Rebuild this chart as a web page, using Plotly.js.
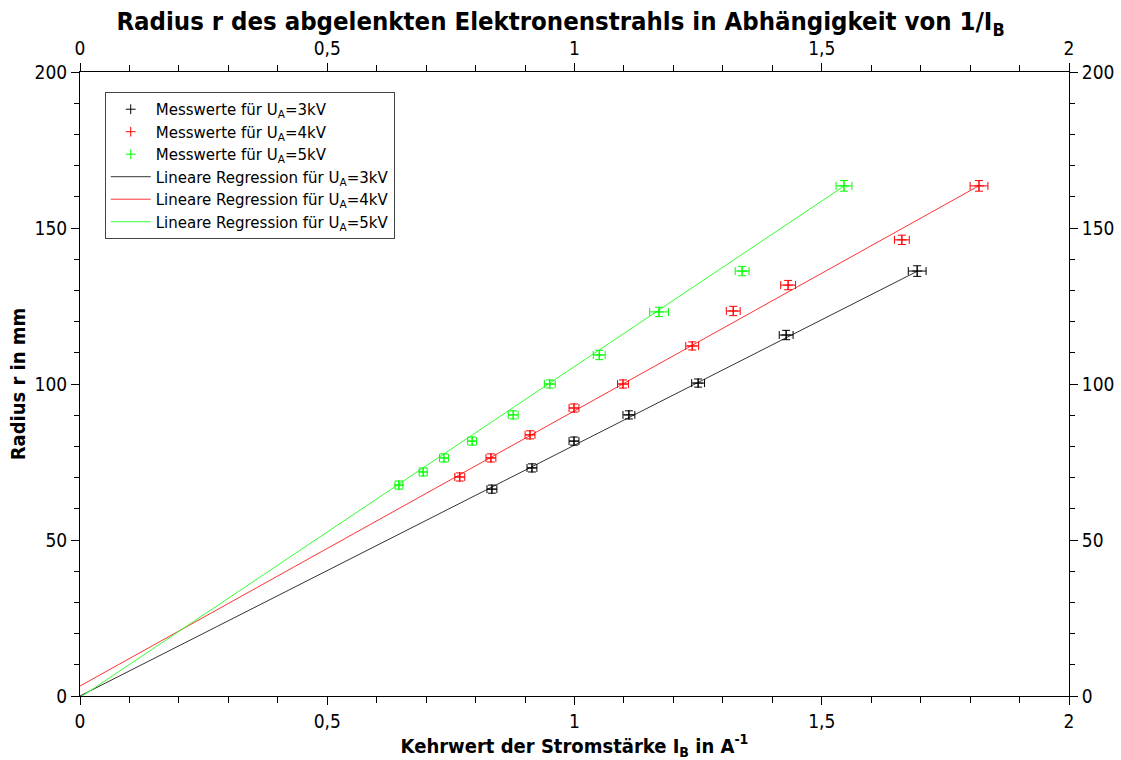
<!DOCTYPE html>
<html>
<head>
<meta charset="utf-8">
<script src="https://cdn.plot.ly/plotly-3.0.1.min.js"></script>
<style>html,body{margin:0;padding:0;background:#fff;}#chart{width:1121px;height:760px;}</style>
</head>
<body>
<div id="chart"></div>
<script>
// Measured values (x = 1/I_B in A^-1, r in mm)
const x3kV = [0.833, 0.914, 0.999, 1.110, 1.250, 1.428, 1.693];
const r3kV = [66.3, 73.1, 81.7, 90.1, 100.3, 115.7, 136.2];
const ex3kV = [0.010, 0.010, 0.010, 0.012, 0.013, 0.014, 0.018];
const er3kV = [1.3, 1.3, 1.3, 1.3, 1.3, 1.5, 1.7];

const x4kV = [0.768, 0.831, 0.910, 0.999, 1.098, 1.238, 1.321, 1.432, 1.662, 1.818];
const r4kV = [70.2, 76.3, 83.7, 92.3, 100.0, 112.2, 123.4, 131.7, 146.2, 163.5];
const ex4kV = [0.010, 0.010, 0.010, 0.010, 0.011, 0.013, 0.014, 0.015, 0.015, 0.018];
const er4kV = [1.3, 1.3, 1.3, 1.3, 1.3, 1.3, 1.5, 1.5, 1.5, 1.7];

const x5kV = [0.645, 0.694, 0.736, 0.793, 0.876, 0.950, 1.050, 1.171, 1.339, 1.545];
const r5kV = [67.6, 71.8, 76.3, 81.7, 90.1, 100.0, 109.3, 123.1, 136.2, 163.5];
const ex5kV = [0.008, 0.008, 0.009, 0.009, 0.010, 0.011, 0.012, 0.019, 0.014, 0.016];
const er5kV = [1.3, 1.3, 1.3, 1.3, 1.3, 1.3, 1.5, 1.5, 1.5, 1.7];

// Linear regression parameters r = a * x + b, drawn from x = 0 to last measured x
const regSlope = [80.4, 88.2, 106.1];
const regIntercept = [0.0, 3.2, -0.5];
const regXmax = [1.693, 1.818, 1.545];

const seriesNames = ['Messwerte für U<sub>A</sub>=3kV', 'Messwerte für U<sub>A</sub>=4kV', 'Messwerte für U<sub>A</sub>=5kV'];
const regNames = ['Lineare Regression für U<sub>A</sub>=3kV', 'Lineare Regression für U<sub>A</sub>=4kV', 'Lineare Regression für U<sub>A</sub>=5kV'];
const colors = ['#000000', '#ff0000', '#00ff00'];
const lineColors = ['#333333', '#ff3333', '#33ff33'];

const xs = [x3kV, x4kV, x5kV];
const rs = [r3kV, r4kV, r5kV];
const exs = [ex3kV, ex4kV, ex5kV];
const ers = [er3kV, er4kV, er5kV];

const traces = [];
// measured points on the secondary (top/right) axes so they sit above the lines
for (let i = 0; i < 3; i++) {
  traces.push({
    type: 'scatter', mode: 'markers', name: seriesNames[i],
    x: xs[i], y: rs[i], xaxis: 'x2', yaxis: 'y2',
    marker: {symbol: 'cross-thin-open', size: 7, color: colors[i], line: {width: 1, color: colors[i]}},
    error_x: {type: 'data', array: exs[i], visible: true, color: colors[i], thickness: 1, width: 4},
    error_y: {type: 'data', array: ers[i], visible: true, color: colors[i], thickness: 1, width: 4},
    hoverinfo: 'x+y'
  });
}
for (let i = 0; i < 3; i++) {
  const lx = [0, regXmax[i]];
  const ly = lx.map(v => regSlope[i] * v + regIntercept[i]);
  traces.push({
    type: 'scatter', mode: 'lines', name: regNames[i],
    x: lx, y: ly, xaxis: 'x', yaxis: 'y',
    line: {color: lineColors[i], width: 1},
    hoverinfo: 'x+y'
  });
}

const condFont = 'DejaVu Sans Condensed, DejaVu Sans, sans-serif';
const tickFont = {family: condFont, size: 19, color: '#000'};

const xCommon = {
  range: [0, 2], dtick: 0.5, tick0: 0, ticks: 'outside', ticklen: 8, tickcolor: '#000', tickwidth: 1,
  minor: {dtick: 0.1, ticks: 'outside', ticklen: 6, tickcolor: '#000', showgrid: false},
  showline: true, linecolor: '#000', linewidth: 1, showgrid: false, zeroline: false,
  tickfont: tickFont, fixedrange: true
};
const yCommon = {
  range: [0, 200], dtick: 50, tick0: 0, ticks: 'outside', ticklen: 8, tickcolor: '#000', tickwidth: 1,
  minor: {dtick: 10, ticks: 'outside', ticklen: 5, tickcolor: '#000', showgrid: false},
  showline: true, linecolor: '#000', linewidth: 1, showgrid: false, zeroline: false,
  tickfont: tickFont, fixedrange: true
};

const layout = {
  width: 1121, height: 760,
  margin: {l: 80, r: 52, t: 72, b: 64},
  paper_bgcolor: '#fff', plot_bgcolor: '#fff',
  separators: ',.',
  font: {family: 'DejaVu Sans, sans-serif', color: '#000'},
  title: {
    text: 'Radius r des abgelenkten Elektronenstrahls in Abhängigkeit von 1/I<sub>B</sub>',
    font: {family: condFont, size: 25.5, weight: 'bold', color: '#000'},
    x: 0.5, xanchor: 'center', y: 0.972, yanchor: 'middle'
  },
  xaxis: Object.assign({}, xCommon, {
    side: 'bottom', anchor: 'y',
    title: {text: 'Kehrwert der Stromstärke I<sub>B</sub> in A<sup>-1</sup>',
            font: {family: condFont, size: 20, weight: 'bold', color: '#000'}, standoff: 4}
  }),
  xaxis2: Object.assign({}, xCommon, {side: 'top', overlaying: 'x', anchor: 'y2'}),
  yaxis: Object.assign({}, yCommon, {
    side: 'left', anchor: 'x',
    title: {text: 'Radius r in mm', font: {family: condFont, size: 20, weight: 'bold', color: '#000'}, standoff: 3}
  }),
  yaxis2: Object.assign({}, yCommon, {side: 'right', overlaying: 'y', anchor: 'x2'}),
  showlegend: true,
  legend: {
    x: 0.025, y: 0.968, xanchor: 'left', yanchor: 'top',
    bgcolor: '#fff', bordercolor: '#444', borderwidth: 1,
    font: {family: 'DejaVu Sans, sans-serif', size: 15, color: '#000'},
    tracegroupgap: 0, itemwidth: 40, traceorder: 'normal'
  }
};

Plotly.newPlot('chart', traces, layout, {displayModeBar: false, staticPlot: true});
</script>
</body>
</html>
